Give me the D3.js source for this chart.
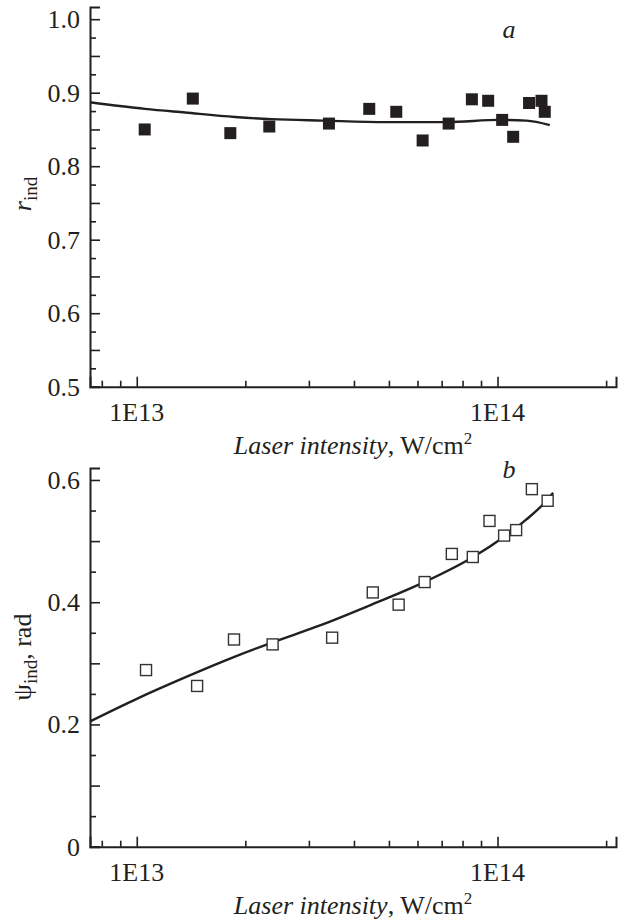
<!DOCTYPE html>
<html>
<head>
<meta charset="utf-8">
<script src="https://cdn.jsdelivr.net/npm/d3@7"></script>
</head>
<body style="margin:0">
<div id="chart" style="font-family: 'Liberation Serif', 'Times New Roman', serif;"></div>
<script>
// measured points, panel a (r_ind) and panel b (psi_ind)
const intensityA = [1.052e13, 1.43e13, 1.817e13, 2.33e13, 3.41e13, 4.41e13, 5.24e13, 6.20e13, 7.32e13, 8.49e13, 9.42e13, 1.030e14, 1.105e14, 1.223e14, 1.324e14, 1.352e14];
const rInd = [0.850, 0.892, 0.845, 0.854, 0.858, 0.878, 0.874, 0.835, 0.858, 0.891, 0.889, 0.863, 0.840, 0.886, 0.889, 0.874];

const intensityB = [1.061e13, 1.47e13, 1.86e13, 2.38e13, 3.48e13, 4.51e13, 5.32e13, 6.28e13, 7.47e13, 8.54e13, 9.50e13, 1.043e14, 1.126e14, 1.245e14, 1.377e14];
const psiInd = [0.289, 0.263, 0.339, 0.331, 0.342, 0.416, 0.396, 0.433, 0.479, 0.474, 0.533, 0.509, 0.518, 0.585, 0.566];

// fitted curves
const fitXA = [7.42e12, 1.054e13, 1.361e13, 1.872e13, 2.366e13, 3.28e13, 4.92e13, 7.22e13, 1.015e14, 1.202e14, 1.396e14];
const fitRA = [0.887, 0.878, 0.873, 0.867, 0.864, 0.862, 0.860, 0.860, 0.863, 0.862, 0.856];
const fitXB = [7.42e12, 1e13, 1.361e13, 1.872e13, 2.37e13, 3.22e13, 4.43e13, 6.22e13, 8.56e13, 1.036e14, 1.2e14, 1.367e14, 1.426e14];
const fitPsiB = [0.205, 0.242, 0.277, 0.311, 0.334, 0.362, 0.395, 0.432, 0.474, 0.506, 0.535, 0.566, 0.579];

// ticks
const xMajor = [1e13, 1e14];
const xMajorLabels = ["1E13", "1E14"];
const xMinor = [8e12, 9e12, 2e13, 3e13, 4e13, 5e13, 6e13, 7e13, 8e13, 9e13, 2e14];
const yTicksA = [0.5, 0.6, 0.7, 0.8, 0.9, 1.0];
const yHalfA = [0.55, 0.65, 0.75, 0.85, 0.95];
const yMinorA = [0.525, 0.575, 0.625, 0.675, 0.725, 0.775, 0.825, 0.875, 0.925, 0.975];
const yTicksB = [0, 0.2, 0.4, 0.6];
const yHalfB = [0.1, 0.3, 0.5];
const yMinorB = [0.05, 0.15, 0.25, 0.35, 0.45, 0.55];

const W = 619, H = 922;
const ink = "#231f20";
const fontSize = 26;

const svg = d3.select("#chart")
  .append("svg")
  .attr("width", W)
  .attr("height", H)
  .attr("font-family", "Times New Roman");

const x = d3.scaleLog()
  .domain([7.42e12, 2.13e14])
  .range([90, 616]);

// plain text element in the serif face
function addText(parent) {
  return parent.append("text")
    .attr("font-family", "Times New Roman")
    .attr("font-size", fontSize)
    .attr("fill", ink);
}

function drawPanel(opt) {
  const y = d3.scaleLinear()
    .domain(opt.yDomain)
    .range(opt.yRange);
  const xAxisY = opt.yRange[0];

  const g = svg.append("g");

  // x axis: major ticks, then minor ticks (labels drawn below as own texts)
  g.append("g")
    .attr("transform", `translate(0,${xAxisY})`)
    .call(d3.axisBottom(x).tickValues(xMajor).tickSize(-10).tickFormat(""));
  g.append("g")
    .attr("transform", `translate(0,${xAxisY})`)
    .call(d3.axisBottom(x).tickValues(xMinor).tickSize(-6).tickFormat(""))
    .call(s => s.select(".domain").remove());

  // y axis
  g.append("g")
    .attr("transform", "translate(90,0)")
    .call(d3.axisLeft(y).tickValues(opt.yTicks).tickSize(-10).tickFormat(""));
  g.append("g")
    .attr("transform", "translate(90,0)")
    .call(d3.axisLeft(y).tickValues(opt.yHalf).tickSize(-10).tickFormat(""))
    .call(s => s.select(".domain").remove());
  g.append("g")
    .attr("transform", "translate(90,0)")
    .call(d3.axisLeft(y).tickValues(opt.yMinor).tickSize(-6).tickFormat(""))
    .call(s => s.select(".domain").remove());

  g.selectAll(".tick text").remove();
  g.selectAll("g").attr("font-family", null).attr("font-size", null);
  g.selectAll(".domain").attr("stroke", ink).attr("stroke-width", 2);
  g.selectAll(".tick line").attr("stroke", ink).attr("stroke-width", 1.6);

  // tick labels
  xMajor.forEach((v, i) => {
    addText(g)
      .attr("x", x(v))
      .attr("y", xAxisY + 34)
      .attr("text-anchor", "middle")
      .text(xMajorLabels[i]);
  });
  opt.yTicks.forEach(v => {
    addText(g)
      .attr("x", 80)
      .attr("y", y(v) + 9)
      .attr("text-anchor", "end")
      .text(opt.yFormat(v));
  });

  // fitted curve
  const line = d3.line()
    .x(d => x(d[0]))
    .y(d => y(d[1]))
    .curve(d3.curveMonotoneX);

  g.append("path")
    .datum(opt.fitX.map((v, i) => [v, opt.fitY[i]]))
    .attr("fill", "none")
    .attr("stroke", ink)
    .attr("stroke-width", 2.4)
    .attr("d", line);

  // markers
  const s = opt.size;
  g.selectAll("rect.pt")
    .data(opt.px.map((v, i) => [v, opt.py[i]]))
    .enter()
    .append("rect")
    .attr("class", "pt")
    .attr("x", d => x(d[0]) - s / 2)
    .attr("y", d => y(d[1]) - s / 2)
    .attr("width", s)
    .attr("height", s)
    .attr("fill", opt.filled ? ink : "#fff")
    .attr("stroke", opt.filled ? "none" : "#333")
    .attr("stroke-width", 1.4);

  // panel letter
  addText(g)
    .attr("x", 509)
    .attr("y", opt.letterY)
    .attr("text-anchor", "middle")
    .attr("font-style", "italic")
    .text(opt.letter);

  // x title
  const t = addText(g)
    .attr("x", 353)
    .attr("y", opt.titleY)
    .attr("text-anchor", "middle");
  t.append("tspan").attr("font-style", "italic").text("Laser intensity");
  t.append("tspan").text(", W/cm");
  t.append("tspan").attr("font-size", 17).attr("dy", -10).text("2");

  // y title
  const yt = addText(g)
    .attr("transform", `translate(31,${opt.yTitleY}) rotate(-90)`)
    .attr("text-anchor", "middle");
  yt.append("tspan").attr("font-style", opt.yTitleItalic ? "italic" : "normal").text(opt.yTitle);
  yt.append("tspan").attr("font-size", 19).attr("dy", 6).text("ind");
  if (opt.yTitleRest) yt.append("tspan").attr("dy", -6).text(opt.yTitleRest);
}

drawPanel({
  yDomain: [0.5, 1.0166], yRange: [386.7, 7],
  yTicks: yTicksA, yHalf: yHalfA, yMinor: yMinorA,
  yFormat: d3.format(".1f"),
  px: intensityA, py: rInd, fitX: fitXA, fitY: fitRA,
  filled: true, size: 12,
  letter: "a", letterY: 38,
  titleY: 454,
  yTitle: "r", yTitleItalic: true, yTitleY: 194
});

drawPanel({
  yDomain: [0, 0.6196], yRange: [846.7, 468],
  yTicks: yTicksB, yHalf: yHalfB, yMinor: yMinorB,
  yFormat: d => d === 0 ? "0" : d3.format(".1f")(d),
  px: intensityB, py: psiInd, fitX: fitXB, fitY: fitPsiB,
  filled: false, size: 11,
  letter: "b", letterY: 478,
  titleY: 914,
  yTitle: "\u03C8", yTitleItalic: false, yTitleRest: ", rad", yTitleY: 657
});
</script>
</body>
</html>
